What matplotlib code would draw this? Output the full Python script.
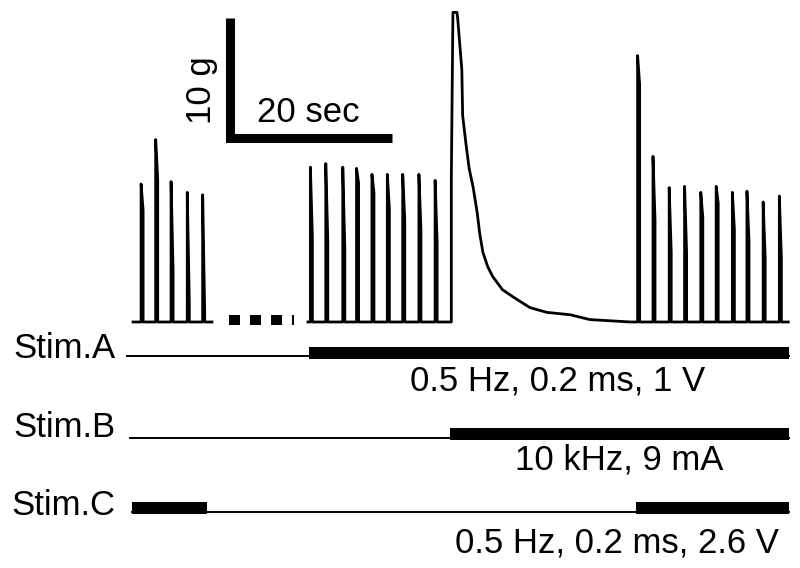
import numpy as np
import matplotlib.pyplot as plt

plt.rcParams['font.family'] = ['Liberation Sans', 'DejaVu Sans']

# twitch bursts: spike time (s), peak force (g), force one sample later (g)
burst1_t = [1.0, 2.8, 4.7, 6.7, 8.6]
burst1_peak = [11.5, 15.2, 11.7, 10.8, 10.6]
burst1_shoulder = [9.3, 11.9, 4.3, 1.7, 0.8]

burst2_t = [21.9, 23.8, 25.9, 27.6, 29.5, 31.4, 33.3, 35.3, 37.3]
burst2_peak = [12.9, 13.2, 12.9, 12.8, 12.3, 12.3, 12.3, 12.3, 11.8]
burst2_shoulder = [7.0, 6.8, 6.2, 11.6, 10.8, 9.5, 8.5, 7.7, 6.6]

# large contraction when Stim.B comes on, and its decay
tetanus_t = [39.3, 39.3, 39.5, 40.0, 40.1, 40.6, 40.7, 41.1, 41.5, 42.0, 42.5, 42.8,
             43.2, 43.8, 44.4, 45.6, 46.9, 49.0, 51.1, 54.0, 56.4, 61.4]
tetanus_f = [0.0, 11.8, 25.8, 25.8, 25.2, 21.0, 17.2, 14.9, 12.8, 11.2, 9.1, 7.4,
             5.8, 4.6, 3.8, 2.7, 2.1, 1.2, 0.8, 0.6, 0.2, 0.0]

burst3_t = [62.3, 64.2, 66.2, 68.1, 70.1, 72.0, 74.0, 75.8, 77.8, 79.8]
burst3_peak = [22.2, 13.8, 11.2, 11.3, 10.8, 11.3, 10.8, 10.9, 10.0, 10.5]
burst3_shoulder = [19.8, 8.5, 5.8, 5.8, 8.7, 9.9, 7.7, 6.8, 5.4, 5.4]

# stimulation protocol
stim_names = ['Stim.A', 'Stim.B', 'Stim.C']
stim_start = [-0.7, -0.4, -0.1]
stim_end = 81.0
stim_on = [[(21.7, 81.0)], [(39.1, 81.0)], [(-0.1, 9.1), (62.1, 81.0)]]
stim_params = ['0.5 Hz, 0.2 ms, 1 V', '10 kHz, 9 mA', '0.5 Hz, 0.2 ms, 2.6 V']


def spikes(times, peaks, shoulders, dt=0.25):
    t, f = [], []
    for ti, p, s in zip(times, peaks, shoulders):
        t += [ti, ti, ti + dt, ti + dt]
        f += [0, p, s, 0]
    return t, f


fig = plt.figure(figsize=(8, 5.68), dpi=100)
ax = fig.add_axes([0, 0, 1, 1])
ax.set_xlim(-16.42, 82.35)
ax.set_ylim(-20.5, 26.83)
ax.axis('off')

lw = 2.0
fs = 25

# first segment
t1, f1 = spikes(burst1_t, burst1_peak, burst1_shoulder)
ax.plot([0] + t1 + [9.75], [0] + f1 + [0], color='k', lw=lw)

# gap in the record
ax.plot([11.85, 19.9], [0.17, 0.17], color='k', lw=7.2, dashes=(1.1, 1.0),
        solid_capstyle='butt', dash_capstyle='butt')

# second segment
t2, f2 = spikes(burst2_t, burst2_peak, burst2_shoulder)
t3, f3 = spikes(burst3_t, burst3_peak, burst3_shoulder)
ax.plot([21.6] + t2 + tetanus_t + t3 + [80.9], [0] + f2 + tetanus_f + f3 + [0],
        color='k', lw=lw)

# scale bar: 10 g, 20 sec
ax.plot([12.0, 12.0, 32.0], [25.3, 15.3, 15.3], color='k', lw=6.5,
        solid_capstyle='butt', solid_joinstyle='miter')
ax.text(15.3, 16.7, '20 sec', fontsize=fs, ha='left', va='baseline')
ax.text(8.5, 19.3, '10 g', fontsize=fs, rotation=90, ha='center', va='center')

# stimulation bars
bar_y = [-3.08, -9.83, -16.0]
thin_y = [-2.875, -9.67, -15.83]
label_y = [-3.0, -9.6, -16.1]
param_x = [34.2, 47.2, 39.75]
param_y = [-5.7, -12.3, -19.2]
for i, name in enumerate(stim_names):
    ax.plot([stim_start[i], stim_end], [thin_y[i], thin_y[i]], color='k', lw=1.4)
    ax.broken_barh([(a, b - a) for a, b in stim_on[i]], (bar_y[i], 1.0),
                   facecolors='k', edgecolor='none')
    ax.text(-2.2, label_y[i], name, fontsize=fs, ha='right', va='baseline')
    ax.text(param_x[i], param_y[i], stim_params[i], fontsize=fs, ha='left',
            va='baseline')

fig.savefig('out.png', dpi=100)
